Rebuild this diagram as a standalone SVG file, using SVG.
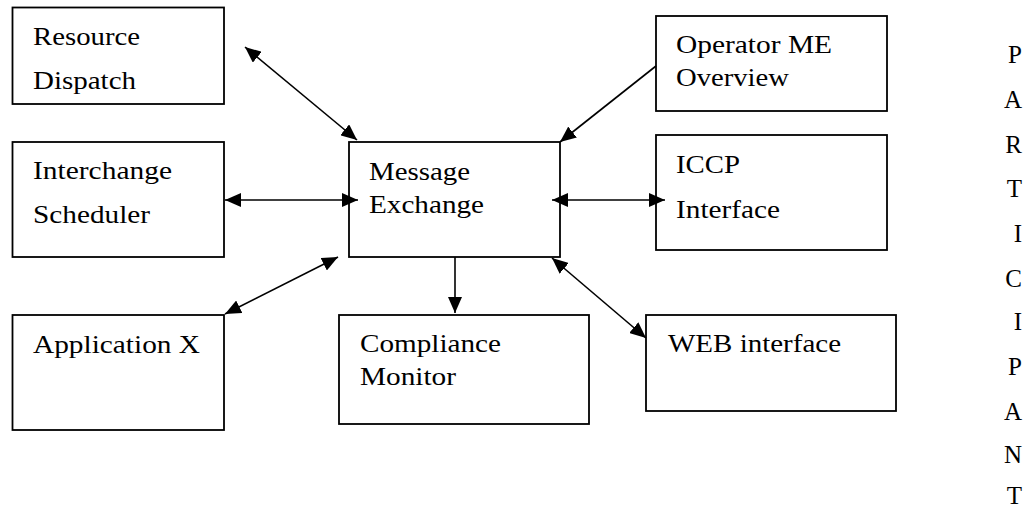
<svg xmlns="http://www.w3.org/2000/svg" width="1026" height="508" viewBox="0 0 1026 508">
<style>
.box{fill:#fff;stroke:#000;stroke-width:1.8}
.t{font-family:"Liberation Serif","Times New Roman",serif;font-size:25px;fill:#000}
.c{stroke:#000;stroke-width:1.6;fill:none}
.v{text-anchor:end}
</style>
<defs>
<marker id="ah" viewBox="0 0 16 14" refX="16" refY="7" markerWidth="16" markerHeight="14" markerUnits="userSpaceOnUse" orient="auto-start-reverse">
<path d="M0,0 L16,7 L0,14 z" fill="#000"/>
</marker>
</defs>
<rect width="1026" height="508" fill="#fff"/>
<g id="resource-dispatch">
<rect class="box" x="12.5" y="7.5" width="211.5" height="96.5"/>
<text class="t" x="33" y="45" textLength="107" lengthAdjust="spacingAndGlyphs">Resource</text>
<text class="t" x="33" y="89" textLength="103" lengthAdjust="spacingAndGlyphs">Dispatch</text>
</g>
<g id="interchange-scheduler">
<rect class="box" x="12.5" y="142" width="211.5" height="115"/>
<text class="t" x="33" y="179" textLength="139" lengthAdjust="spacingAndGlyphs">Interchange</text>
<text class="t" x="33" y="223" textLength="117" lengthAdjust="spacingAndGlyphs">Scheduler</text>
</g>
<g id="application-x">
<rect class="box" x="12.5" y="315" width="211.5" height="115"/>
<text class="t" x="33" y="353" textLength="167" lengthAdjust="spacingAndGlyphs">Application X</text>
</g>
<g id="message-exchange">
<rect class="box" x="349" y="142" width="211" height="115"/>
<text class="t" x="369" y="180" textLength="101" lengthAdjust="spacingAndGlyphs">Message</text>
<text class="t" x="369" y="213" textLength="115" lengthAdjust="spacingAndGlyphs">Exchange</text>
</g>
<g id="compliance-monitor">
<rect class="box" x="339" y="315" width="250" height="109"/>
<text class="t" x="360" y="352" textLength="141" lengthAdjust="spacingAndGlyphs">Compliance</text>
<text class="t" x="360" y="385" textLength="96" lengthAdjust="spacingAndGlyphs">Monitor</text>
</g>
<g id="operator-me-overview">
<rect class="box" x="656" y="16" width="231" height="95"/>
<text class="t" x="676" y="53" textLength="156" lengthAdjust="spacingAndGlyphs">Operator ME</text>
<text class="t" x="676" y="86" textLength="113" lengthAdjust="spacingAndGlyphs">Overview</text>
</g>
<g id="iccp-interface">
<rect class="box" x="656" y="135" width="231" height="115"/>
<text class="t" x="676" y="173" textLength="64" lengthAdjust="spacingAndGlyphs">ICCP</text>
<text class="t" x="676" y="218" textLength="104" lengthAdjust="spacingAndGlyphs">Interface</text>
</g>
<g id="web-interface">
<rect class="box" x="646" y="315" width="250" height="96"/>
<text class="t" x="668" y="352" textLength="173" lengthAdjust="spacingAndGlyphs">WEB interface</text>
</g>
<g id="participant">
<text class="t v" x="1022" y="63">P</text>
<text class="t v" x="1022" y="108">A</text>
<text class="t v" x="1022" y="153">R</text>
<text class="t v" x="1022" y="197">T</text>
<text class="t v" x="1022" y="242">I</text>
<text class="t v" x="1022" y="287">C</text>
<text class="t v" x="1022" y="330">I</text>
<text class="t v" x="1022" y="375">P</text>
<text class="t v" x="1022" y="420">A</text>
<text class="t v" x="1022" y="463">N</text>
<text class="t v" x="1022" y="504">T</text>
</g>
<g id="connectors">
<line class="c" x1="245" y1="47" x2="357" y2="140" marker-start="url(#ah)" marker-end="url(#ah)"/>
<line class="c" x1="225" y1="200" x2="358" y2="200" marker-start="url(#ah)" marker-end="url(#ah)"/>
<line class="c" x1="552" y1="200" x2="665" y2="200" marker-start="url(#ah)" marker-end="url(#ah)"/>
<line class="c" x1="656" y1="66" x2="560" y2="142" marker-end="url(#ah)"/>
<line class="c" x1="455" y1="257" x2="455" y2="313" marker-end="url(#ah)"/>
<line class="c" x1="552" y1="258" x2="646" y2="338" marker-start="url(#ah)" marker-end="url(#ah)"/>
<line class="c" x1="225" y1="314" x2="338" y2="257" marker-start="url(#ah)" marker-end="url(#ah)"/>
</g>
</svg>
